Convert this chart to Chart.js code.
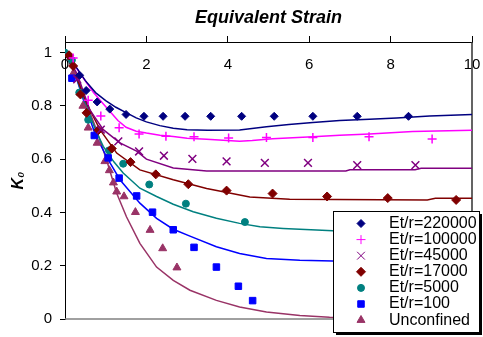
<!DOCTYPE html>
<html>
<head>
<meta charset="utf-8">
<script src="https://cdn.jsdelivr.net/npm/chart.js@4.4.0/dist/chart.umd.min.js"></script>
<style>
  html, body { margin: 0; padding: 0; background: #fff; }
</style>
</head>
<body>
<canvas id="k0-chart" width="483" height="337"></canvas>
<script>
// measured points, [strain, K0]
const pts220000 = [[0.36,0.915],[0.52,0.858],[0.79,0.815],[1.10,0.788],[1.50,0.768],[1.94,0.761],[2.41,0.761],[2.95,0.761],[3.58,0.761],[4.34,0.761],[5.14,0.761],[6.09,0.761],[7.18,0.761],[8.44,0.761]];
const pts100000 = [[0.20,0.980],[0.57,0.821],[0.88,0.762],[1.33,0.718],[1.82,0.695],[2.48,0.686],[3.17,0.684],[4.02,0.680],[4.95,0.681],[6.09,0.681],[7.47,0.684],[9.02,0.676]];
const pts45000 = [[0.30,0.900],[0.88,0.711],[1.31,0.667],[1.82,0.629],[2.43,0.613],[3.13,0.601],[3.97,0.592],[4.91,0.586],[5.97,0.586],[7.18,0.578],[8.61,0.578]];
const pts17000 = [[0.10,0.990],[0.20,0.950],[0.38,0.843],[0.53,0.774],[0.82,0.709],[1.15,0.640],[1.61,0.589],[2.23,0.543],[3.03,0.506],[3.97,0.482],[5.10,0.471],[6.44,0.460],[7.93,0.454],[9.61,0.447]];
const pts5000 = [[0,1.0],[0.17,0.972],[0.35,0.850],[0.57,0.748],[1.08,0.633],[1.43,0.583],[2.07,0.505],[2.97,0.433],[4.42,0.364]];
const pts100 = [[0.17,0.904],[0.72,0.689],[1.06,0.605],[1.33,0.529],[1.76,0.462],[2.15,0.401],[2.66,0.335],[3.17,0.269],[3.72,0.195],[4.26,0.123],[4.61,0.069]];
const ptsUnconf = [[0.20,0.921],[0.44,0.800],[0.57,0.718],[0.79,0.661],[0.98,0.592],[1.09,0.558],[1.19,0.512],[1.27,0.478],[1.45,0.460],[1.73,0.401],[2.09,0.334],[2.40,0.265],[2.75,0.193]];

// model curves
const fit220000 = [[0,1],[0.3,0.94],[0.5,0.895],[0.75,0.85],[1.0,0.82],[1.25,0.795],[1.5,0.775],[1.75,0.755],[2.0,0.74],[2.33,0.726],[2.66,0.716],[3.0,0.711],[3.5,0.709],[4.29,0.71],[4.95,0.722],[5.5,0.73],[6.09,0.738],[6.75,0.745],[7.48,0.75],[8.15,0.755],[8.96,0.762],[10,0.768]];
const fit100000 = [[0,1],[0.25,0.95],[0.45,0.905],[0.7,0.85],[0.9,0.815],[1.1,0.78],[1.3,0.745],[1.5,0.72],[1.75,0.705],[2.0,0.698],[2.33,0.69],[2.66,0.685],[3.0,0.679],[3.48,0.675],[4.29,0.667],[4.6,0.670],[5.1,0.677],[6.09,0.684],[6.75,0.69],[7.48,0.695],[8.54,0.704],[10,0.709]];
const fit45000 = [[0,1],[0.3,0.92],[0.61,0.785],[0.94,0.711],[1.35,0.661],[1.76,0.63],[2.0,0.6],[2.66,0.567],[3.48,0.556],[6.9,0.556],[7.0,0.56],[8.6,0.56],[8.75,0.566],[10,0.566]];
const fit17000 = [[0,1],[0.25,0.92],[0.53,0.81],[0.86,0.711],[1.27,0.623],[1.84,0.56],[2.66,0.523],[3.48,0.49],[4.54,0.458],[5.52,0.45],[8.9,0.447],[9.1,0.453],[10,0.453]];
const fit5000 = [[0,1],[0.25,0.92],[0.5,0.81],[0.75,0.71],[0.94,0.648],[1.2,0.59],[1.43,0.548],[1.84,0.491],[2.25,0.46],[2.66,0.431],[3.15,0.403],[3.72,0.378],[4.29,0.359],[4.79,0.346],[5.36,0.34],[6.18,0.334],[6.58,0.331],[10,0.325]];
const fit100 = [[0,1],[0.25,0.92],[0.5,0.80],[0.75,0.69],[1.06,0.598],[1.35,0.523],[1.84,0.435],[2.25,0.378],[2.66,0.337],[3.07,0.311],[3.72,0.271],[4.29,0.246],[4.95,0.227],[5.77,0.221],[6.58,0.218],[10,0.215]];
const fitUnconf = [[0,1],[0.25,0.93],[0.5,0.82],[0.75,0.72],[1.02,0.598],[1.27,0.472],[1.51,0.384],[1.84,0.284],[2.25,0.195],[2.66,0.145],[3.07,0.108],[3.72,0.07],[4.29,0.045],[4.95,0.026],[5.77,0.013],[6.5,0.007],[10,0.0]];

const seriesLabels = ['Et/r=220000','Et/r=100000','Et/r=45000','Et/r=17000','Et/r=5000','Et/r=100','Unconfined'];
const xTicks = [0, 2, 4, 6, 8, 10];
const yTicks = [0, 0.2, 0.4, 0.6, 0.8, 1];

const FONT = '"Liberation Sans", Arial, sans-serif';
Chart.defaults.font.family = FONT;

const points = [pts220000, pts100000, pts45000, pts17000, pts5000, pts100, ptsUnconf];
const fits = [fit220000, fit100000, fit45000, fit17000, fit5000, fit100, fitUnconf];
const looks = [
  { color: '#000080', style: 'rectRot', radius: 4 },
  { color: '#FF00FF', style: 'cross', radius: 4.5 },
  { color: '#800080', style: 'crossRot', radius: 5.5 },
  { color: '#800000', style: 'rectRot', radius: 4.5 },
  { color: '#008080', style: 'circle', radius: 3.5 },
  { color: '#0000FF', style: 'rect', radius: 4.6 },
  { color: '#993366', style: 'triangle', radius: 4.6 }
];

const toXY = arr => arr.map(p => ({ x: p[0], y: p[1] }));

const datasets = [];
fits.forEach((f, i) => {
  datasets.push({
    label: seriesLabels[i] + ' fit',
    data: toXY(f),
    showLine: true,
    borderColor: looks[i].color,
    borderWidth: 1.5,
    pointRadius: 0,
    tension: 0,
    order: 2
  });
});
points.forEach((p, i) => {
  const stroked = looks[i].style === 'cross' || looks[i].style === 'crossRot';
  datasets.push({
    label: seriesLabels[i],
    data: toXY(p),
    showLine: false,
    pointStyle: looks[i].style,
    pointRadius: looks[i].radius,
    pointBackgroundColor: looks[i].color,
    pointBorderColor: looks[i].color,
    pointBorderWidth: stroked ? 1.5 : 1,
    order: 1
  });
});

// right and bottom edges of the plot area
const plotFrame = {
  id: 'plotFrame',
  beforeDatasetsDraw(chart) {
    const { ctx, chartArea: a } = chart;
    ctx.save();
    ctx.lineWidth = 1.5;
    ctx.strokeStyle = '#808080';
    ctx.beginPath();
    ctx.moveTo(a.left, a.bottom);
    ctx.lineTo(a.right, a.bottom);
    ctx.stroke();
    ctx.strokeStyle = '#303030';
    ctx.beginPath();
    ctx.moveTo(a.right, a.top);
    ctx.lineTo(a.right, a.bottom);
    ctx.stroke();
    ctx.restore();
  }
};

// boxed legend sitting inside the plot, with a drop shadow
const boxLegend = {
  id: 'boxLegend',
  afterDraw(chart) {
    const ctx = chart.ctx;
    const bx = 333, by = 211, bw = 146, bh = 121;
    ctx.save();
    ctx.fillStyle = '#000';
    ctx.fillRect(bx + 3, by + 3, bw, bh);
    ctx.fillStyle = '#fff';
    ctx.fillRect(bx, by, bw, bh);
    ctx.strokeStyle = '#000';
    ctx.lineWidth = 1;
    ctx.strokeRect(bx + 0.5, by + 0.5, bw, bh);
    ctx.font = '16px ' + FONT;
    ctx.textBaseline = 'middle';
    ctx.textAlign = 'left';
    seriesLabels.forEach((label, i) => {
      const cy = 223.5 + i * 16.1;
      const lk = looks[i];
      const stroked = lk.style === 'cross' || lk.style === 'crossRot';
      ctx.fillStyle = lk.color;
      ctx.strokeStyle = lk.color;
      Chart.helpers.drawPoint(ctx, {
        pointStyle: lk.style, rotation: 0, radius: lk.radius,
        borderWidth: stroked ? 1.5 : 1
      }, 361, cy);
      ctx.fillStyle = '#000';
      ctx.fillText(label, 389, cy);
    });
    ctx.restore();
  }
};

new Chart(document.getElementById('k0-chart').getContext('2d'), {
  type: 'scatter',
  data: { datasets },
  options: {
    responsive: false,
    animation: false,
    devicePixelRatio: 1,
    layout: { padding: { top: 0, left: 0, right: 11, bottom: 18 } },
    plugins: { legend: { display: false }, tooltip: { enabled: false } },
    scales: {
      x: {
        type: 'linear',
        position: 'top',
        min: 0,
        max: 10,
        afterBuildTicks: s => { s.ticks = xTicks.map(v => ({ value: v })); },
        afterFit: s => {
          s.height = 42;
          s.paddingLeft = 0;
          s.paddingRight = 0;
        },
        grid: { drawOnChartArea: false, tickLength: 6, color: '#000' },
        border: { color: '#000', width: 1 },
        // labels hang below the axis line, inside the plot
        ticks: { color: '#000', font: { size: 15 }, mirror: true, padding: 14, maxRotation: 0, autoSkip: false },
        title: {
          display: true, text: 'Equivalent Strain', color: '#000',
          font: { size: 18, weight: 'bold', style: 'italic' },
          padding: { top: 7, bottom: 0 }
        }
      },
      y: {
        min: 0,
        max: 1.04,
        afterBuildTicks: s => { s.ticks = yTicks.map(v => ({ value: v })); },
        afterFit: s => { s.width = 65; },
        grid: { drawOnChartArea: false, tickLength: 5, color: '#000' },
        border: { color: '#000', width: 1 },
        ticks: {
          color: '#000', font: { size: 15 }, padding: 8,
          callback: v => v.toFixed(1).replace('.0', '')
        },
        title: {
          display: true, text: 'K₀', color: '#000',
          font: { size: 16, weight: 'bold', style: 'italic' },
          padding: { top: 9, bottom: 0 }
        }
      }
    }
  },
  plugins: [plotFrame, boxLegend]
});
</script>
</body>
</html>
